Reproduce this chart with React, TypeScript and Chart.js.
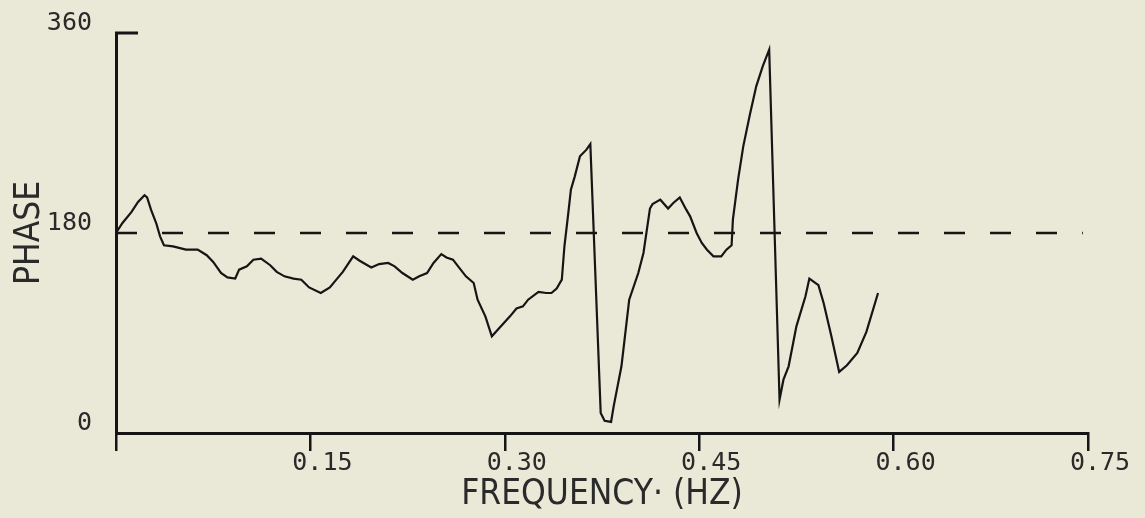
import React, { useEffect, useRef } from 'react';
import { Chart, registerables } from 'chart.js';

Chart.register(...registerables);

// Frequency (Hz) of each traced sample of the phase curve
const FREQ_HZ = [
  0.0, 0.005, 0.012, 0.017, 0.022, 0.024, 0.027, 0.031, 0.034, 0.037,
  0.044, 0.054, 0.063, 0.07, 0.075, 0.081, 0.086, 0.092, 0.095, 0.101,
  0.106, 0.112, 0.119, 0.124, 0.13, 0.137, 0.143, 0.149, 0.158, 0.165,
  0.17, 0.175, 0.183, 0.188, 0.197, 0.203, 0.21, 0.215, 0.221, 0.229,
  0.234, 0.24, 0.245, 0.251, 0.255, 0.26, 0.264, 0.27, 0.276, 0.279,
  0.285, 0.29, 0.297, 0.304, 0.309, 0.314, 0.318, 0.326, 0.332, 0.336,
  0.34, 0.344, 0.346, 0.349, 0.351, 0.354, 0.358, 0.363, 0.366, 0.374,
  0.377, 0.382, 0.384, 0.39, 0.396, 0.403, 0.407, 0.412, 0.414, 0.42,
  0.426, 0.43, 0.435, 0.44, 0.443, 0.448, 0.452, 0.456, 0.461, 0.467,
  0.471, 0.475, 0.476, 0.48, 0.484, 0.489, 0.494, 0.499, 0.504, 0.512,
  0.515, 0.519, 0.525, 0.532, 0.535, 0.542, 0.546, 0.552, 0.558, 0.564,
  0.572, 0.579, 0.588,
];

// Phase (degrees) at each sample
const PHASE_DEG = [
  180, 189, 199, 208, 214, 212, 201, 189, 177, 169,
  168, 165, 165, 160, 154, 144, 140, 139, 147, 150,
  156, 157, 151, 145, 141, 139, 138, 131, 126, 131,
  138, 145, 159, 155, 149, 152, 153, 150, 144, 138,
  141, 144, 153, 161, 158, 156, 150, 141, 135, 120,
  105, 87, 96, 105, 112, 114, 120, 127, 126, 126,
  130, 138, 168, 198, 219, 231, 249, 255, 260, 18,
  11, 10, 24, 60, 120, 144, 162, 202, 206, 210,
  202, 207, 212, 201, 195, 180, 171, 165, 159, 159,
  165, 169, 192, 228, 258, 286, 312, 330, 345, 30,
  48, 60, 96, 123, 139, 133, 117, 87, 55, 61,
  72, 91, 126,
];

// Dashed reference level
const REF_PHASE = 180;
const REF_FREQ_RANGE = [0, 0.746];

// Axis ticks
const X_TICKS = [0, 0.15, 0.3, 0.45, 0.6, 0.75];
const X_TICK_LABELS = ['', '0.15', '0.30', '0.45', '0.60', '0.75'];
const Y_TICKS = [0, 180, 360];
const Y_TICK_LABELS = ['0', '180', '360'];

const X_TITLE = 'FREQUENCY\u00B7 (HZ)';
const Y_TITLE = 'PHASE';

const INK = '#151515';
const TEXT = '#2a2a2a';
const PAPER = '#eae8d6';
const TICK_FONT = "'DejaVu Sans Mono', monospace";
const TITLE_FONT = "'Liberation Sans Narrow', 'DejaVu Sans Condensed', 'DejaVu Sans', sans-serif";

const topTickPlugin = {
  id: 'topTick',
  afterDraw(chart: any) {
    const ys = chart.scales.y;
    const ctx = chart.ctx;
    const py = ys.getPixelForValue(Y_TICKS[Y_TICKS.length - 1]);
    ctx.save();
    ctx.strokeStyle = INK;
    ctx.lineWidth = 3;
    ctx.beginPath();
    ctx.moveTo(ys.right - 1, py);
    ctx.lineTo(ys.right + 22, py);
    ctx.stroke();
    ctx.restore();
  },
};

export default function App() {
  const ref = useRef<HTMLCanvasElement | null>(null);

  useEffect(() => {
    if (!ref.current) return;
    const curve = FREQ_HZ.map((f, i) => ({ x: f, y: PHASE_DEG[i] }));
    const refLine = REF_FREQ_RANGE.map((f) => ({ x: f, y: REF_PHASE }));

    const chart = new Chart(ref.current, {
      type: 'line',
      data: {
        datasets: [
          {
            data: curve,
            borderColor: INK,
            borderWidth: 2.2,
            pointRadius: 0,
            tension: 0,
            fill: false,
          },
          {
            data: refLine,
            borderColor: INK,
            borderWidth: 2.6,
            borderDash: [21, 25],
            pointRadius: 0,
            fill: false,
          },
        ],
      },
      options: {
        animation: false,
        responsive: false,
        devicePixelRatio: 1,
        layout: { padding: { top: 33, right: 57, bottom: 0, left: 0 } },
        plugins: {
          legend: { display: false },
          tooltip: { enabled: false },
        },
        scales: {
          x: {
            type: 'linear',
            position: 'bottom',
            min: 0,
            max: 0.75,
            afterBuildTicks: (s: any) => {
              s.ticks = X_TICKS.map((v) => ({ value: v }));
            },
            afterFit: (s: any) => {
              s.height = 85;
            },
            grid: {
              display: true,
              drawOnChartArea: false,
              drawTicks: true,
              tickLength: 18,
              color: INK,
              lineWidth: 2.5,
            },
            border: { display: true, color: INK, width: 3 },
            ticks: {
              autoSkip: false,
              maxRotation: 0,
              padding: -3,
              labelOffset: 12,
              color: TEXT,
              font: { family: TICK_FONT, size: 25 },
              callback: (_v: any, i: number) => X_TICK_LABELS[i],
            },
            title: {
              display: true,
              text: X_TITLE,
              color: TEXT,
              font: { family: TITLE_FONT, size: 35 },
              padding: { top: 0, bottom: 2 },
            },
          },
          y: {
            type: 'linear',
            min: 0,
            max: 360,
            afterBuildTicks: (s: any) => {
              s.ticks = Y_TICKS.map((v) => ({ value: v }));
            },
            afterFit: (s: any) => {
              s.width = 116;
            },
            grid: { display: false },
            border: { display: true, color: INK, width: 3 },
            ticks: {
              padding: 16,
              labelOffset: -10,
              color: TEXT,
              font: { family: TICK_FONT, size: 25 },
              callback: (_v: any, i: number) => Y_TICK_LABELS[i],
            },
            title: {
              display: true,
              text: Y_TITLE,
              color: TEXT,
              font: { family: TITLE_FONT, size: 35 },
              padding: { top: 9, bottom: 0 },
            },
          },
        },
      },
      plugins: [topTickPlugin],
    } as any);

    return () => chart.destroy();
  }, []);

  return (
    <div
      style={{
        position: 'fixed',
        left: 0,
        top: 0,
        width: 1145,
        height: 518,
        background: PAPER,
      }}
    >
      <canvas ref={ref} width={1145} height={518} style={{ display: 'block' }} />
    </div>
  );
}
